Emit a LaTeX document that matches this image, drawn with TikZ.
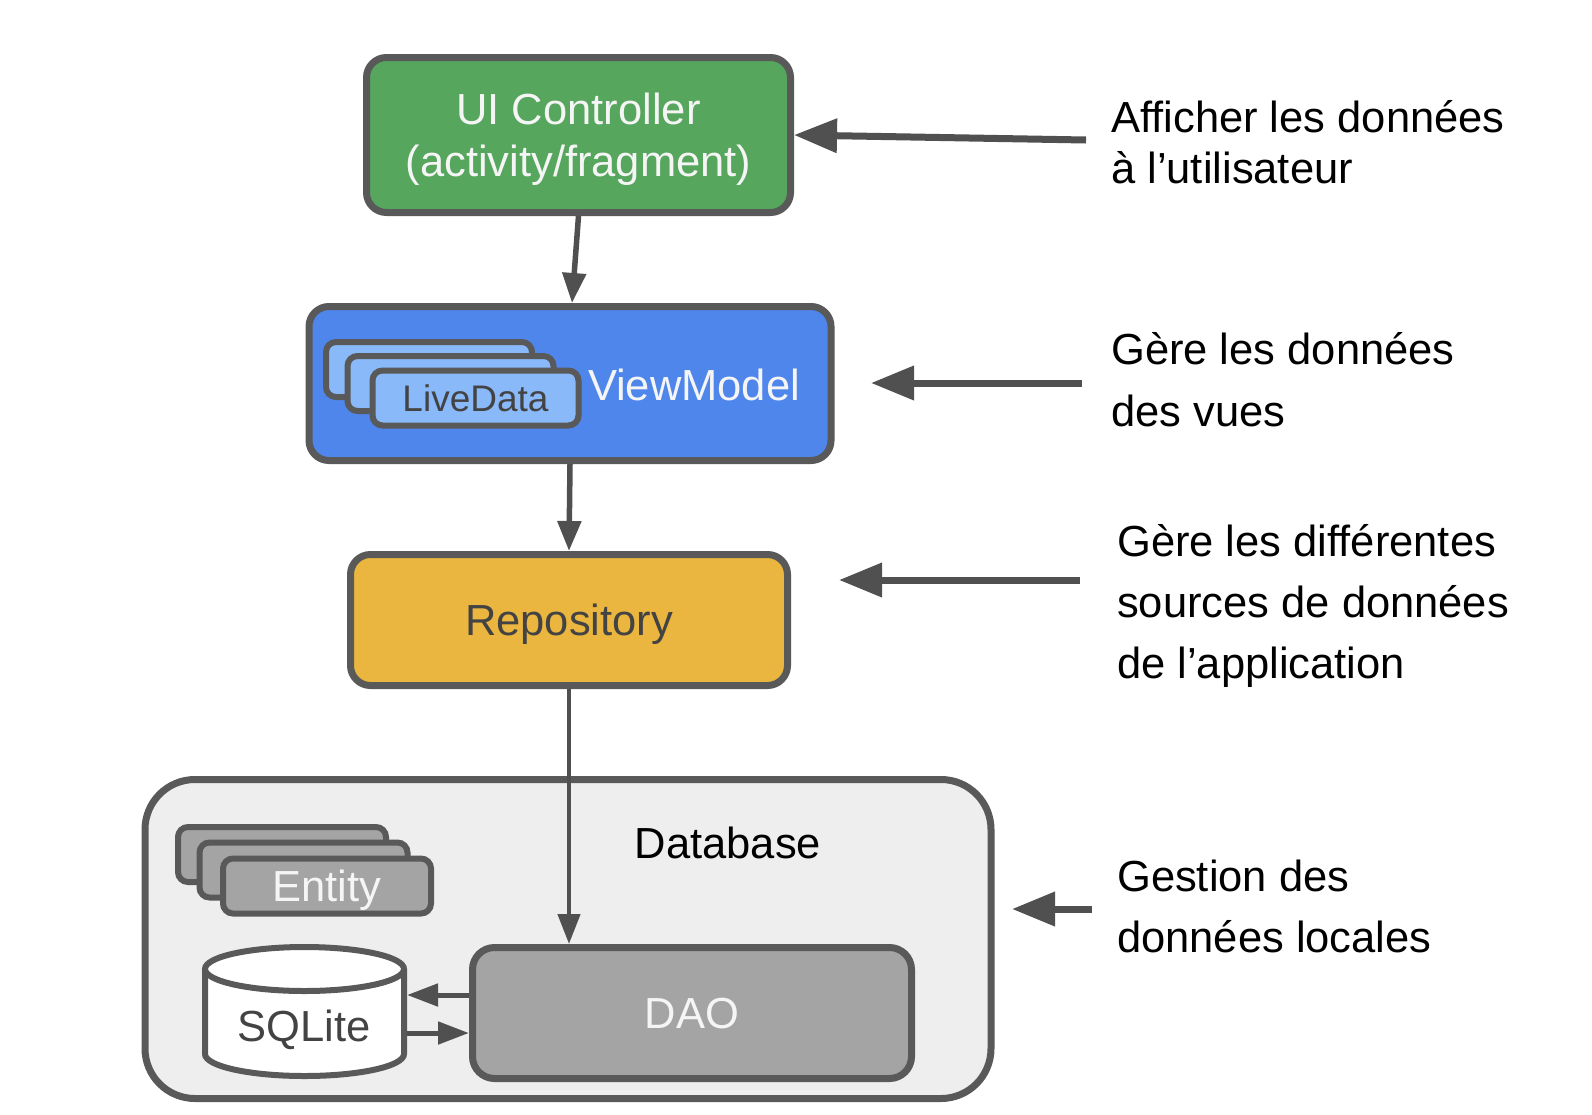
\documentclass[tikz,border=0pt]{standalone}
\usepackage{fontspec}
\setmainfont{Liberation Sans}
\usetikzlibrary{arrows.meta,calc}
\definecolor{cgreen}{HTML}{56A65D}
\definecolor{cblue}{HTML}{4F86EC}
\definecolor{clight}{HTML}{89B9F9}
\definecolor{cyellow}{HTML}{EAB63F}
\definecolor{cgray}{HTML}{A4A4A4}
\definecolor{cbg}{HTML}{EEEEEE}
\definecolor{cstroke}{HTML}{595959}
\definecolor{cdark}{HTML}{434343}
\definecolor{cwhite}{HTML}{F5F5F5}
\definecolor{carrow}{HTML}{505050}
\newcommand\fsMain{\fontsize{43.5}{52}\selectfont}
\newcommand\fsSmall{\fontsize{37}{44}\selectfont}
\begin{document}
\begin{tikzpicture}[x=1pt,y=-1pt,
  box/.style={draw=cstroke, line width=7pt, rounded corners=20pt, inner sep=0pt, font=\fsMain, align=center, text depth=0pt},
  card/.style={draw=cstroke, line width=6pt, rounded corners=10pt, inner sep=0pt, minimum width=206pt, minimum height=55pt, text depth=0pt},
  lbl/.style={inner sep=0pt, font=\fsMain},
  side/.style={inner sep=0pt, align=left, anchor=west, text=black},
  arrr/.style={draw=carrow, line width=7pt, -{Triangle[length=43pt,width=33pt]}},
  arrd/.style={draw=carrow, line width=5.5pt, -{Triangle[length=30pt,width=23pt]}},
  arrt/.style={draw=carrow, line width=4.5pt, -{Triangle[length=30pt,width=22pt]}},
  arrs/.style={draw=carrow, line width=5pt, -{Triangle[length=31pt,width=22pt]}},
  cyl/.style={draw=cstroke, line width=6pt}
]
\useasboundingbox[fill=white] (0,0) rectangle (1592,1114);

% UI controller
\node[box, fill=cgreen, text=cwhite, minimum width=424pt, minimum height=155pt] (ui) at (578.5,135)
  {UI Controller\\(activity/fragment)};

% ViewModel
\node[box, fill=cblue, minimum width=522pt, minimum height=154pt] (vm) at (570,383.5) {};
\node[card, fill=clight] (ld1) at (429,369.5) {};
\node[card, fill=clight] (ld2) at (450.5,383.5) {};
\node[card, fill=clight, font=\fsSmall, text=cdark] (ld3) at (475.5,398) {LiveData};
\node[lbl, text=cwhite] (vmlbl) at (694,385) {ViewModel};

% Repository
\node[box, fill=cyellow, text=cdark, minimum width=437pt, minimum height=131pt] (repo) at (569,620) {Repository};

% Database
\node[box, fill=cbg, rounded corners=50pt, minimum width=846pt, minimum height=319pt] (db) at (568,939) {};
\node[lbl, text=black] (dblbl) at (728,843) {Database};

\node[card, fill=cgray, minimum width=208pt] (en1) at (282,854.5) {};
\node[card, fill=cgray, minimum width=208pt] (en2) at (303.5,870) {};
\node[card, fill=cgray, minimum width=208pt, font=\fsMain, text=cwhite] (en3) at (327,886) {Entity};

\node[box, fill=cgray, rounded corners=22pt, text=cwhite, minimum width=439pt, minimum height=131pt] (dao) at (692,1013) {DAO};

% SQLite cylinder
\fill[white] (205,969) -- (205,1054) arc[start angle=180, end angle=360, x radius=99.5pt, y radius=22pt] -- (404,969) -- cycle;
\draw[cyl] (205,969) -- (205,1054) arc[start angle=180, end angle=360, x radius=99.5pt, y radius=22pt] -- (404,969);
\filldraw[cyl, fill=white] (304.5,969) ellipse [x radius=99.5pt, y radius=22pt];
\node[inner sep=0pt, outer sep=0pt, minimum width=205pt, minimum height=134pt] (sqlite) at (304.5,1012) {};
\node[lbl, text=cdark] (sqlitelbl) at (304,1030) {SQLite};

% vertical connectors
\draw[arrd] (ui.south) -- ([xshift=2pt]vm.north);
\draw[arrd] (vm.south) -- (repo.south |- repo.north);
\draw[arrt] (repo.south) -- (repo.south |- dao.north);
\draw[arrs] ([yshift=18pt]dao.west) -- ([yshift=18pt]dao.west -| sqlite.east);
\draw[arrs] ([yshift=-20pt]dao.west -| sqlite.east) -- ([yshift=-20pt]dao.west);

% side texts
\node[side, font={\fontsize{43.5}{51}\selectfont}] (t1) at (1111,142.5) {Afficher les données\\à l’utilisateur};
\node[side, font={\fontsize{43.5}{62}\selectfont}] (t2) at (1111,380) {Gère les données\\des vues};
\node[side, font={\fontsize{43.5}{61}\selectfont}] (t3) at (1117,606) {Gère les différentes\\sources de données\\de l’application};
\node[side, font={\fontsize{43.5}{61}\selectfont}] (t4) at (1117,906) {Gestion des\\données locales};

% side arrows
\coordinate (s1) at (1086,140);
\coordinate (s2) at (1082,383);
\coordinate (e2) at (871,383);
\coordinate (s3) at (1080,580);
\coordinate (e3) at (839,580);
\coordinate (s4) at (1092,909);
\coordinate (e4) at (1012,909);
\draw[arrr] (s1) -- (ui.east);
\draw[arrr] (s2) -- (e2);
\draw[arrr] (s3) -- (e3);
\draw[arrr] (s4) -- (e4);
\end{tikzpicture}
\end{document}
